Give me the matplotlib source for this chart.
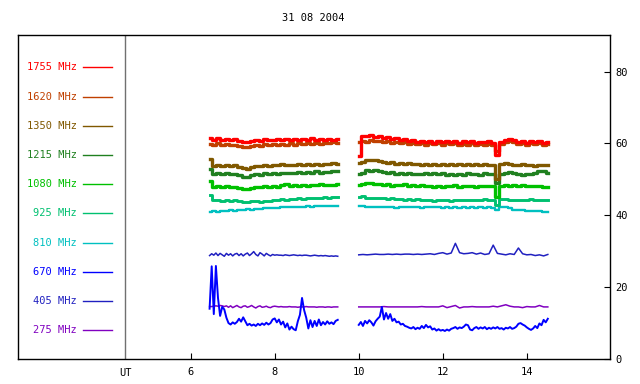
import numpy as np
import matplotlib
matplotlib.use("Agg")
import matplotlib.pyplot as plt

plt.rcParams['font.family'] = ['DejaVu Sans Mono']

title = "31 08 2004"
labels = ["1755 MHz", "1620 MHz", "1350 MHz", "1215 MHz", "1080 MHz",
          "925 MHz", "810 MHz", "670 MHz", "405 MHz", "275 MHz"]
colors = ["#ff0000", "#c04000", "#805800", "#208020", "#00c000",
          "#00c070", "#00c0c0", "#0000ff", "#2020c0", "#8000c0"]

# time spans of the two observing intervals (UT hours)
span_a = (6.45, 9.5)
span_b = (10.0, 14.5)

f1755_a = [61.6, 61.0, 61.4, 60.9, 61.3, 61.0, 61.2, 60.7, 60.4, 60.3, 60.6, 61.0, 60.8, 61.2, 60.9, 61.1,
           61.3, 60.9, 61.2, 61.0, 61.3, 60.9, 61.2, 61.1, 61.4, 60.9, 61.3, 61.1, 61.2, 61.0, 61.3]
f1755_b = [56.5, 62.2, 62.0, 62.4, 61.8, 62.1, 61.5, 61.7, 61.2, 61.4, 60.9, 61.2, 60.7, 60.9, 60.4, 60.8,
           60.3, 60.6, 60.2, 60.7, 60.3, 60.8, 60.4, 60.7, 60.2, 60.6, 60.3, 60.7, 60.2, 60.5, 60.3, 60.6,
           60.2, 56.8, 60.5, 61.0, 61.3, 60.9, 60.4, 60.7, 60.2, 60.6, 60.3, 60.7, 60.2, 60.5]
f1620_a = [59.9, 59.6, 60.0, 59.5, 59.8, 59.6, 59.7, 59.3, 58.9, 59.0, 59.3, 59.6, 59.4, 59.8, 59.5, 59.9,
           59.6, 59.9, 59.7, 60.0, 59.7, 60.1, 59.8, 60.0, 59.9, 60.2, 59.9, 60.2, 60.1, 60.3, 60.2]
f1620_b = [60.5, 60.8, 60.4, 60.9, 60.6, 60.7, 60.3, 60.6, 60.2, 60.4, 60.0, 60.3, 59.9, 60.2, 59.8, 60.1,
           59.7, 60.0, 59.8, 60.1, 59.7, 60.0, 59.8, 60.1, 59.6, 59.9, 59.7, 60.0, 59.7, 59.9, 59.6, 59.9,
           59.7, 58.0, 59.9, 60.4, 60.6, 60.3, 59.9, 60.1, 59.7, 60.0, 59.8, 60.1, 59.7, 59.9]
f1350_a = [55.7, 53.8, 54.1, 53.7, 54.0, 53.8, 53.9, 53.5, 53.1, 53.0, 53.4, 53.7, 53.6, 54.0, 53.8, 54.1,
           53.9, 54.2, 53.9, 54.1, 54.0, 54.3, 54.0, 54.2, 54.1, 54.4, 54.1, 54.3, 54.2, 54.5, 54.4]
f1350_b = [54.6, 54.9, 55.4, 55.3, 55.5, 55.1, 54.9, 54.6, 54.8, 54.4, 54.6, 54.3, 54.5, 54.2, 54.4, 54.1,
           54.3, 54.0, 54.3, 54.1, 54.4, 54.0, 54.2, 53.9, 54.3, 54.0, 54.2, 53.9, 54.3, 54.0, 54.2, 54.1,
           54.0, 50.0, 54.2, 54.5, 54.3, 54.1, 53.9, 54.2, 53.9, 54.1, 53.8, 54.1, 53.9, 54.0]
f1215_a = [53.0, 51.6, 51.9, 51.4, 51.8, 51.5, 51.6, 51.2, 50.8, 50.7, 51.1, 51.4, 51.3, 51.7, 51.5, 51.8,
           51.6, 51.9, 51.7, 51.9, 51.8, 52.0, 51.8, 52.0, 51.9, 52.2, 51.9, 52.1, 52.0, 52.3, 52.2]
f1215_b = [51.4, 51.9, 52.5, 52.4, 52.7, 52.3, 52.0, 51.8, 52.0, 51.6, 51.8, 51.5, 51.7, 51.4, 51.6, 51.5,
           51.8, 51.4, 51.7, 51.5, 51.8, 51.3, 51.6, 51.1, 51.5, 51.3, 51.7, 51.4, 51.6, 51.3, 51.7, 51.5,
           51.6, 49.0, 51.4, 51.9, 52.1, 51.8, 51.5, 51.3, 51.5, 51.4, 51.7, 52.3, 52.2, 51.8]
f1080_a = [49.5, 48.0, 48.3, 47.9, 48.2, 47.9, 48.0, 47.6, 47.3, 47.2, 47.6, 47.9, 47.8, 48.1, 47.9, 48.2,
           48.0, 48.4, 48.6, 48.3, 48.4, 48.2, 48.5, 48.3, 48.5, 48.4, 48.6, 48.4, 48.5, 48.4, 48.6]
f1080_b = [48.5, 48.7, 49.0, 48.9, 48.8, 48.6, 48.4, 48.6, 48.3, 48.5, 48.4, 48.6, 48.3, 48.5, 48.2, 48.4,
           48.1, 48.3, 48.0, 48.2, 48.0, 48.3, 48.1, 48.4, 48.0, 48.2, 48.1, 48.3, 48.0, 48.2, 48.1, 48.3,
           48.2, 45.2, 48.2, 48.4, 48.3, 48.5, 48.3, 48.4, 48.2, 48.3, 48.1, 48.2, 48.0, 47.9]
f925_a = [45.6, 44.2, 44.4, 44.1, 44.3, 44.0, 44.2, 43.9, 43.8, 43.7, 43.9, 44.0, 43.8, 44.1, 44.0, 44.3,
          44.2, 44.5, 44.3, 44.6, 44.5, 44.7, 44.6, 44.8, 44.7, 44.9, 44.8, 45.0, 44.9, 45.1, 45.2]
f925_b = [45.2, 45.3, 44.9, 44.8, 44.9, 44.7, 44.8, 44.6, 44.7, 44.5, 44.6, 44.4, 44.6, 44.3, 44.5, 44.4,
          44.2, 44.4, 44.1, 44.3, 44.2, 44.4, 44.1, 44.3, 44.2, 44.4, 44.3, 44.2, 44.4, 44.3, 44.5, 44.3,
          44.4, 43.0, 44.5, 44.6, 44.3, 44.4, 44.2, 44.4, 44.3, 44.5, 44.2, 44.4, 44.3, 44.2]
f810_a = [41.0, 41.1, 41.0, 41.3, 41.2, 41.4, 41.3, 41.5, 41.4, 41.7, 41.5, 41.8, 41.7, 42.0, 41.9, 42.1,
          42.0, 42.2, 42.3, 42.2, 42.4, 42.3, 42.4, 42.5, 42.4, 42.6, 42.5, 42.6, 42.7, 42.6, 42.7]
f810_b = [42.6, 42.7, 42.3, 42.2, 42.3, 42.2, 42.3, 42.2, 42.3, 42.1, 42.3, 42.2, 42.3, 42.2, 42.3, 42.1,
          42.2, 42.3, 42.2, 42.3, 42.1, 42.2, 42.0, 42.2, 42.1, 42.2, 42.1, 42.2, 42.0, 42.2, 42.1, 42.2,
          42.1, 41.6, 42.3, 42.2, 41.9, 41.6, 41.4, 41.5, 41.3, 41.2, 41.1, 41.2, 41.0, 41.0]
f670_a = [14.0, 25.8, 12.5, 25.9, 17.0, 12.0, 14.5, 13.8, 11.5, 10.0, 9.6, 10.2, 9.8, 10.3, 11.2, 10.4,
          11.6, 10.5, 9.4, 9.8, 9.3, 9.6, 9.2, 9.8, 9.4, 9.9, 9.5, 10.1, 9.6, 10.0, 11.0, 11.3,
          10.2, 11.0, 9.6, 10.4, 8.8, 9.9, 8.2, 9.0, 8.3, 8.0, 10.5, 12.3, 17.0, 13.6, 11.5, 8.5,
          10.8, 8.9, 10.6, 9.2, 11.0, 9.4, 10.3, 9.6, 10.5, 9.8, 10.2, 9.7, 10.6, 10.9]
f670_b = [9.5, 10.3, 9.2, 10.6, 9.9, 10.8, 10.2, 9.3, 10.5, 11.2, 11.8, 14.5, 11.0, 12.8, 11.2, 12.5,
          10.6, 11.2, 10.2, 10.4, 9.6, 9.8, 9.2, 9.0, 8.7, 8.5, 8.9, 8.3, 8.7, 8.4, 9.2, 8.6,
          9.5, 8.8, 9.1, 8.2, 8.5, 7.9, 8.3, 7.9, 8.1, 7.8, 8.2, 7.9, 8.4, 8.6, 8.9, 8.4,
          8.8, 8.6, 9.0, 9.6, 9.4, 8.2, 8.0, 8.6, 8.9, 8.4, 8.8, 8.5, 8.9, 8.3, 8.7, 8.4,
          8.8, 8.5, 8.9, 8.4, 8.6, 8.2, 8.7, 8.5, 8.9, 8.4, 8.6, 9.0, 9.8, 10.0, 9.6, 9.3,
          8.8, 8.4, 8.1, 8.5, 9.2, 8.6, 9.9, 9.4, 10.9, 10.2, 11.2]
f405_a = [28.8, 29.3, 28.9, 29.5, 28.8, 29.4, 29.0, 28.6, 29.4, 28.9, 29.3, 28.7, 29.2, 29.4, 28.8, 29.3,
          28.7, 29.2, 29.5, 28.8, 29.3, 29.9, 29.1, 28.7, 29.6, 29.2, 28.7, 29.4, 29.0, 28.7, 29.1, 28.9,
          29.0, 28.9, 28.9, 28.8, 29.0, 28.9, 28.8, 28.9, 29.0, 28.9, 28.8, 28.9, 28.8, 28.9, 28.9, 28.8,
          28.7, 28.8, 28.9, 28.8, 28.7, 28.8, 28.7, 28.8, 28.7, 28.6, 28.7, 28.6, 28.7, 28.6]
f405_b = [29.0, 29.1, 29.0, 29.1, 29.2, 29.1, 29.1, 29.2, 29.1, 29.2, 29.1, 29.2, 29.2, 29.1, 29.2, 29.1,
          29.2, 29.3, 29.1, 29.4, 29.6, 29.2, 29.5, 32.2, 29.6, 29.3, 29.4, 29.6, 29.2, 29.5, 29.1, 29.3,
          31.7, 29.4, 29.2, 29.0, 29.3, 29.1, 30.9, 29.3, 29.0, 29.1, 28.8, 29.0, 28.7, 29.1]
f275_a = [14.6, 14.6, 14.7, 14.8, 14.7, 14.9, 14.8, 14.6, 14.8, 14.4, 14.8, 14.3, 14.6, 14.9, 14.5, 14.3,
          14.7, 14.8, 14.4, 14.6, 14.9, 14.5, 14.2, 14.6, 14.8, 14.4, 14.5, 14.7, 14.4, 14.3, 14.6, 14.7,
          14.6, 14.5, 14.6, 14.5, 14.5, 14.5, 14.6, 14.5, 14.5, 14.5, 14.4, 14.5, 14.5, 14.5, 14.6, 14.5,
          14.5, 14.5, 14.5, 14.4, 14.5, 14.5, 14.5, 14.4, 14.5, 14.5, 14.4, 14.5, 14.5, 14.5]
f275_b = [14.5, 14.5, 14.5, 14.5, 14.5, 14.5, 14.6, 14.5, 14.5, 14.5, 14.5, 14.5, 14.5, 14.5, 14.5, 14.6,
          14.5, 14.5, 14.5, 14.5, 14.8, 14.3, 14.6, 14.9, 14.2, 14.5, 14.5, 14.6, 14.5, 14.5, 14.5, 14.5,
          14.7, 14.5, 14.8, 15.1, 14.7, 14.5, 14.5, 14.3, 14.6, 14.5, 14.5, 14.9, 14.5, 14.5]

series = [(f1755_a, f1755_b), (f1620_a, f1620_b), (f1350_a, f1350_b), (f1215_a, f1215_b),
          (f1080_a, f1080_b), (f925_a, f925_b), (f810_a, f810_b), (f670_a, f670_b),
          (f405_a, f405_b), (f275_a, f275_b)]
widths = [2.4, 2.4, 2.4, 2.4, 2.4, 2.1, 1.7, 1.4, 1.1, 1.1]
# the noisy high-frequency channels look pixel-stepped, the low ones are plain lines
styles = ["steps-mid"] * 7 + ["default"] * 3

fig = plt.figure(figsize=(6.4, 3.84), dpi=100)
ax = fig.add_axes([18 / 640, 25 / 384, 592 / 640, 324 / 384])

# draw low frequencies first so 1755 ends on top
for i in reversed(range(len(series))):
    a, b = series[i]
    for seg, span in ((a, span_a), (b, span_b)):
        t = np.linspace(span[0], span[1], len(seg))
        ax.plot(t, seg, color=colors[i], lw=widths[i], drawstyle=styles[i])

# legend column
for i, lab in enumerate(labels):
    y = 81.2 - 8.13 * i
    ax.text(3.29, y, lab, color=colors[i], fontsize=7.5, ha="right", va="center")
    ax.plot([3.44, 4.13], [y, y], color=colors[i], lw=1)

ax.axvline(4.44, color="#707070", lw=1)

ax.set_xlim(1.89, 15.98)
ax.set_ylim(0, 90.2)
ax.set_xticks([6, 8, 10, 12, 14])
ax.set_yticks([0, 20, 40, 60, 80])
ax.yaxis.tick_right()
ax.tick_params(axis="both", direction="in", length=4, labelsize=7.5, color="black")
ax.tick_params(axis="x", pad=6)
ax.tick_params(axis="y", pad=4)
for s in ax.spines.values():
    s.set_linewidth(1)
ax.text(4.44, -2.4, "UT", fontsize=7.5, ha="center", va="top")

fig.text(0.49, 0.953, title, fontsize=7.5, ha="center", va="center")

fig.savefig("out.png", dpi=100)
